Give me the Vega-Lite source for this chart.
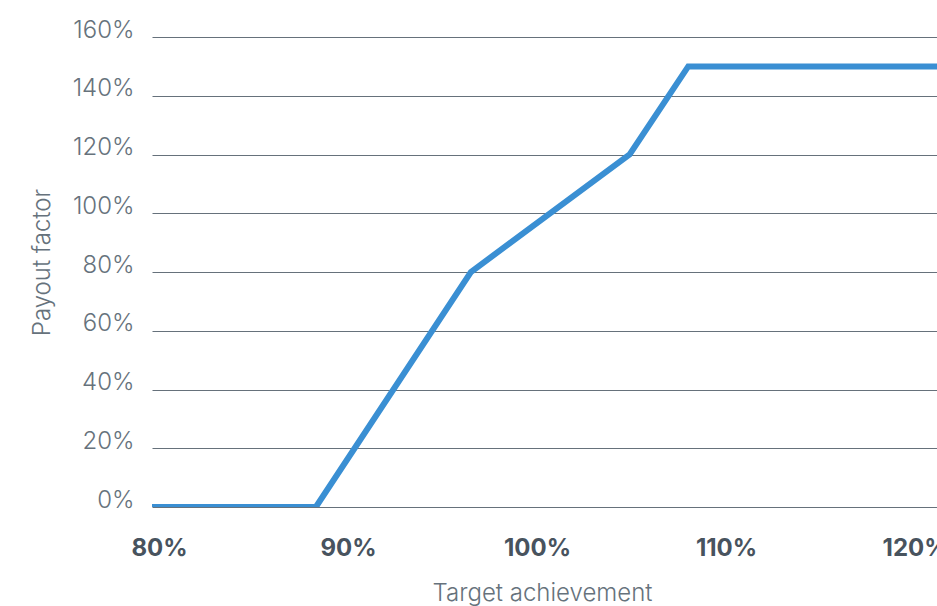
{
  "$schema": "https://vega.github.io/schema/vega-lite/v6.json",
  "width": 785,
  "height": 470,
  "autosize": {"type": "none"},
  "padding": {"left": 152, "top": 37, "right": 0, "bottom": 99},
  "background": "white",
  "config": {
    "view": {"stroke": null},
    "font": "Inter"
  },
  "data": {
    "values": [
      {"achievement": 79.63, "payout": 0},
      {"achievement": 88.3, "payout": 0},
      {"achievement": 96.5, "payout": 80},
      {"achievement": 104.9, "payout": 120},
      {"achievement": 108, "payout": 150},
      {"achievement": 121.16, "payout": 150}
    ]
  },
  "mark": {"type": "line", "color": "#3a8fd3", "strokeWidth": 6, "strokeJoin": "miter", "strokeCap": "butt", "clip": true},
  "encoding": {
    "x": {
      "field": "achievement",
      "type": "quantitative",
      "scale": {"domain": [79.63, 121.16], "nice": false, "zero": false},
      "axis": {
        "title": "Target achievement",
        "values": [80, 90, 100, 110, 120],
        "labelExpr": "datum.value + '%'",
        "grid": false,
        "domain": false,
        "ticks": false,
        "tickSize": 0,
        "labelPadding": 48,
        "labelBaseline": "alphabetic",
        "labelFont": "Inter",
        "labelFontSize": 24,
        "labelFontWeight": "bold",
        "labelColor": "#48535e",
        "labelFlush": false,
        "labelOverlap": false,
        "titleFont": "Inter",
        "titleFontSize": 24,
        "titleFontWeight": 300,
        "titleColor": "#66727c",
        "titleX": 390,
        "titleY": 93,
        "titleAlign": "center",
        "titleBaseline": "alphabetic"
      }
    },
    "y": {
      "field": "payout",
      "type": "quantitative",
      "scale": {"domain": [0, 160], "nice": false},
      "axis": {
        "title": "Payout factor",
        "values": [0, 20, 40, 60, 80, 100, 120, 140, 160],
        "labelExpr": "datum.value + '%'",
        "grid": true,
        "gridColor": "#66717b",
        "gridWidth": 1,
        "gridOpacity": 1,
        "domain": false,
        "ticks": false,
        "tickSize": 0,
        "labelPadding": 18,
        "labelBaseline": "alphabetic",
        "labelDy": -3,
        "labelFont": "Inter",
        "labelFontSize": 24,
        "labelFontWeight": 300,
        "labelColor": "#66727c",
        "labelFlush": false,
        "labelOverlap": false,
        "titleFont": "Inter",
        "titleFontSize": 24,
        "titleFontWeight": 300,
        "titleColor": "#66727c",
        "titleAngle": 270,
        "titleX": -110,
        "titleY": 225,
        "titleAlign": "center",
        "titleBaseline": "middle"
      }
    }
  }
}
